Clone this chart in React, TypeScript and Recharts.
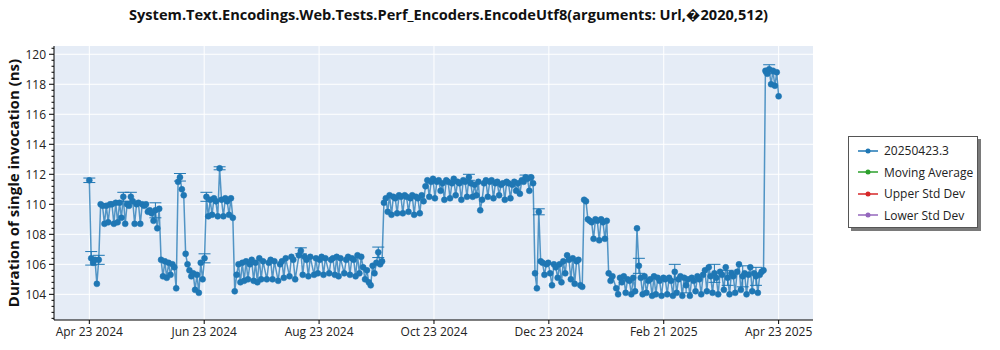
import React from 'react';
import { ComposedChart, Line, XAxis, YAxis, CartesianGrid, Legend, ErrorBar } from 'recharts';

// Day offsets from 2024-04-23 for each run
const days = [
  0, 1, 2, 3, 4, 5, 6, 7, 8, 9, 10, 11, 12, 13, 14, 15, 16, 17, 18, 19, 20, 21, 22, 23, 24, 25, 26, 27, 28, 29,
  30, 31, 32, 33, 34, 35, 36, 37, 38, 39, 40, 41, 42, 43, 44, 45, 46, 47, 48, 49, 50, 51, 52, 53, 54, 55, 56, 57, 58, 59,
  60, 61, 62, 63, 64, 65, 66, 67, 68, 69, 70, 71, 72, 73, 74, 75, 76, 77, 78, 79, 80, 81, 82, 83, 84, 85, 86, 87, 88, 89,
  90, 91, 92, 94, 95, 96, 97, 98, 100, 101, 102, 103, 104, 106, 107, 108, 109, 111, 112, 113, 114, 115, 116, 117, 119,
  120, 121, 122, 123, 124, 125, 127, 128, 129, 130, 131, 132, 133, 135, 136, 137, 138, 139, 140, 141, 142, 143, 144, 145,
  146, 147, 148, 149, 150, 151, 152, 153, 154, 155, 156, 157, 158, 159, 160, 161, 162, 163, 164, 165, 166, 167, 168, 169,
  170, 171, 172, 173, 174, 175, 176, 177, 178, 179, 180, 181, 182, 183, 184, 185, 186, 187, 188, 189, 190, 191, 192, 193,
  194, 195, 196, 197, 198, 199, 200, 201, 202, 203, 204, 205, 206, 207, 208, 209, 210, 211, 212, 213, 214, 215, 216, 217,
  218, 219, 220, 221, 222, 223, 224, 225, 226, 227, 228, 229, 230, 231, 232, 233, 234, 235, 236, 237, 238, 239, 240, 241,
  242, 243, 244, 245, 246, 247, 248, 249, 250, 251, 252, 253, 254, 255, 256, 257, 258, 259, 260, 261, 262, 263, 264, 265,
  266, 267, 268, 269, 270, 271, 272, 273, 274, 275, 276, 277, 279, 280, 281, 282, 283, 284, 285, 286, 287, 288, 289, 290,
  291, 292, 293, 294, 295, 296, 297, 298, 299, 300, 301, 302, 303, 304, 305, 306, 307, 308, 309, 310, 311, 312, 313, 314,
  315, 316, 317, 318, 319, 320, 321, 322, 323, 324, 325, 326, 327, 328, 329, 330, 331, 332, 333, 334, 335, 336, 337, 338,
  339, 340, 341, 342, 343, 344, 345, 346, 347, 348, 349, 350, 351, 352, 353, 354, 355, 356, 357, 358, 359, 360, 361, 362,
  363, 364, 365,
];

// Duration of single invocation (ns) per run
const durations = [
  111.6, 106.4, 106.1, 106.3, 104.7, 106.3, 110.0, 109.9, 108.7, 109.9, 108.8, 110.0, 110.0, 108.7, 110.1, 108.8, 110.1, 109.1, 110.5, 108.7, 110.0, 109.9, 110.5, 110.2, 108.7, 110.0, 110.1, 108.7, 110.0, 109.9,
  110.0, 109.5, 109.6, 109.4, 108.9, 109.6, 108.4, 109.7, 106.3, 105.2, 106.2, 105.1, 106.1, 105.3, 106.0, 105.8, 104.4, 111.5, 111.8, 111.0, 110.6, 106.7, 106.0, 105.6, 105.2, 105.4, 104.3, 105.3, 104.1, 106.1,
  105.0, 106.4, 110.5, 109.2, 110.3, 109.3, 110.4, 110.2, 109.2, 112.4, 110.3, 109.2, 110.4, 110.2, 109.3, 110.4, 109.1, 104.2, 105.3, 106.0, 104.8, 106.1, 104.9, 106.2, 105.0, 106.0, 106.3, 104.9, 106.1, 104.8,
  106.4, 105.0, 106.2, 105.0, 106.1, 106.3, 105.0, 106.2, 104.9, 106.0, 106.2, 105.1, 106.4, 105.2, 106.5, 106.3, 105.0, 106.6, 106.9, 105.3, 106.5, 106.3, 105.2, 106.5, 105.3,
  106.4, 105.4, 106.3, 106.5, 105.3, 106.4, 105.4, 106.3, 106.4, 105.3, 106.5, 105.2, 106.4, 105.4, 106.3, 106.5, 105.3, 106.4, 106.3, 105.2, 106.6, 105.4, 106.5, 105.8,
  105.0, 105.6, 104.8, 104.6, 105.9, 105.4, 106.1, 106.8, 106.0, 106.2, 110.1, 110.4, 109.5, 110.6, 109.3, 110.5, 110.4, 109.4, 110.6, 110.5, 109.4, 110.6, 110.5, 109.5,
  110.4, 110.6, 109.3, 110.5, 110.4, 109.4, 110.6, 110.2, 111.2, 111.6, 110.5, 111.5, 111.7, 110.4, 111.5, 111.6, 110.9, 111.4, 110.3, 111.6, 111.5, 110.4, 111.4, 111.7,
  110.6, 111.5, 111.4, 110.3, 111.6, 111.5, 110.5, 111.8, 111.4, 110.5, 111.3, 110.6, 111.5, 109.6, 110.3, 111.4, 111.6, 110.5, 111.5, 111.6, 110.4, 111.4, 111.5, 110.6,
  111.3, 111.4, 110.3, 111.5, 111.4, 110.4, 111.3, 111.5, 110.9, 111.4, 110.7, 111.6, 111.5, 111.8, 111.7, 110.9, 111.8, 111.4, 105.4, 104.4, 109.5, 106.2, 106.1, 105.3,
  106.0, 106.1, 105.4, 104.6, 106.0, 105.8, 105.1, 106.0, 104.8, 106.2, 105.4, 106.6, 106.3, 105.0, 106.4, 104.7, 106.2, 106.3, 104.6, 104.5, 110.3, 110.2, 109.0, 108.9,
  108.8, 107.7, 109.0, 108.9, 107.6, 109.0, 108.8, 107.7, 108.9, 105.4, 104.9, 105.2, 104.4, 104.0, 105.1, 104.8, 105.2, 104.1, 105.0, 104.9, 104.0, 105.1, 104.2, 108.4,
  105.9, 105.1, 104.0, 105.2, 104.1, 104.9, 105.0, 103.9, 105.2, 104.0, 105.1, 104.9, 103.9, 105.1, 105.0, 104.0, 105.1, 104.9, 103.9, 105.5, 104.1, 105.0, 105.2, 103.9,
  105.1, 104.6, 105.0, 103.9, 105.1, 104.9, 104.2, 105.2, 105.0, 104.0, 105.3, 105.6, 104.2, 105.8, 105.2, 104.1, 105.4, 105.1, 104.0, 105.5, 105.3, 104.3, 105.8, 105.1,
  104.0, 105.4, 105.2, 104.1, 105.5, 106.0, 104.3, 105.2, 105.4, 104.0, 105.3, 105.8, 104.2, 105.4, 105.2, 104.1, 105.3, 105.5, 105.6, 118.9, 118.7, 119.0, 118.0, 118.9,
  117.9, 118.8, 117.2,
];

// Runs with a visible error bar: day offset and half-width (ns)
const errorDays = [0, 1, 5, 18, 22, 35, 48, 61, 62, 69, 112, 153, 201, 231, 238, 291, 310, 316, 331, 338, 346, 353, 360];
const errorSizes = [0.15, 0.45, 0.3, 0.3, 0.3, 0.5, 0.25, 0.3, 0.3, 0.1, 0.2, 0.35, 0.2, 0.15, 0.2, 0.5, 0.5, 0.5, 0.6, 0.5, 0.7, 0.6, 0.3];

const xTicks = [0, 60.83, 121.67, 182.5, 243.33, 304.17, 365];
const xTickLabels = ['Apr 23 2024', 'Jun 23 2024', 'Aug 23 2024', 'Oct 23 2024', 'Dec 23 2024', 'Feb 21 2025', 'Apr 23 2025'];
const yMajorTicks = [104, 106, 108, 110, 112, 114, 116, 118, 120];
const yMinorTicks = [
  102.4, 102.8, 103.2, 103.6, 104.4, 104.8, 105.2, 105.6, 106.4, 106.8, 107.2, 107.6, 108.4, 108.8, 109.2, 109.6,
  110.4, 110.8, 111.2, 111.6, 112.4, 112.8, 113.2, 113.6, 114.4, 114.8, 115.2, 115.6, 116.4, 116.8, 117.2, 117.6,
  118.4, 118.8, 119.2, 119.6, 120.4,
];

const seriesName = '20250423.3';
const legendNames = ['20250423.3', 'Moving Average', 'Upper Std Dev', 'Lower Std Dev'];
const legendColors = ['#1f77b4', '#2ca02c', '#d62728', '#9467bd'];

const titleText = 'System.Text.Encodings.Web.Tests.Perf_Encoders.EncodeUtf8(arguments: Url,\uFFFD2020,512)';
const yLabelText = 'Duration of single invocation (ns)';

const data = days.map((d, i) => {
  const k = errorDays.indexOf(d);
  return { day: d, duration: durations[i], err: k >= 0 ? errorSizes[k] : undefined };
});
const yAllTicks = [...yMajorTicks, ...yMinorTicks].sort((a, b) => a - b);

const FONT = '"Open Sans", "Noto Sans", sans-serif';

const YTick = (props: any) => {
  const { x, y, payload } = props;
  const major = yMajorTicks.includes(payload.value);
  return (
    <g>
      <line x1={x - (major ? 5 : 2.5)} x2={x} y1={y} y2={y} stroke="#000" strokeWidth={1} />
      {major && (
        <text x={x - 8} y={y} dy={4.5} textAnchor="end" fontSize={12} fill="#222" fontFamily={FONT}>
          {payload.value}
        </text>
      )}
    </g>
  );
};

const LegendBox = () => (
  <div
    style={{
      border: '1px solid #555',
      background: '#fff',
      boxShadow: '3px 3px 0 #7a7a7a',
      width: 130,
      height: 92,
      boxSizing: 'border-box',
      paddingTop: 3,
      fontFamily: FONT,
      fontSize: 12,
      color: '#222',
    }}
  >
    {legendNames.map((n, i) => (
      <div key={n} style={{ display: 'flex', alignItems: 'center', height: 21.5 }}>
        <svg width={34} height={10} style={{ marginLeft: 8 }}>
          <line x1={1} x2={21} y1={5} y2={5} stroke={legendColors[i]} strokeWidth={1.5} />
          <circle cx={11} cy={5} r={2.5} fill={legendColors[i]} />
        </svg>
        <span style={{ marginLeft: -7 }}>{n}</span>
      </div>
    ))}
  </div>
);

export default function App() {
  return (
    <div style={{ position: 'absolute', left: 0, top: 0, width: 1000, height: 350, background: '#fff' }}>
      <div
        style={{
          position: 'absolute',
          left: 0,
          top: 4,
          width: 897,
          textAlign: 'center',
          fontFamily: FONT,
          fontWeight: 700,
          fontSize: 14.6,
          color: '#111',
          lineHeight: '20px',
        }}
      >
        {titleText}
      </div>
      <ComposedChart
        width={1000}
        height={350}
        data={data}
        margin={{ top: 46, right: 187, bottom: 0, left: 0 }}
      >
        <CartesianGrid
          fill="#E5ECF6"
          stroke="#ffffff"
          strokeWidth={1}
          horizontalValues={yMajorTicks}
          verticalValues={xTicks}
        />
        <XAxis
          dataKey="day"
          type="number"
          domain={[-18.7, 383.2]}
          allowDataOverflow
          ticks={xTicks}
          tickFormatter={(v: number) => xTickLabels[xTicks.indexOf(v)]}
          height={30}
          tickSize={4}
          tickMargin={3}
          interval={0}
          axisLine={{ stroke: '#000', strokeWidth: 1 }}
          tickLine={{ stroke: '#000' }}
          tick={{ fontSize: 12, fill: '#222', fontFamily: FONT }}
        />
        <XAxis
          xAxisId="top"
          orientation="top"
          type="number"
          domain={[-18.7, 383.2]}
          height={0}
          tick={false}
          tickLine={false}
          axisLine={{ stroke: '#000', strokeWidth: 1 }}
        />
        <YAxis
          type="number"
          domain={[102.29, 120.55]}
          allowDataOverflow
          ticks={yAllTicks}
          interval={0}
          width={54}
          tickSize={0}
          tickMargin={0}
          tickLine={false}
          axisLine={{ stroke: '#000', strokeWidth: 1 }}
          tick={<YTick />}
          label={{
            value: yLabelText,
            angle: -90,
            position: 'insideLeft',
            offset: 14,
            style: { textAnchor: 'middle', fontSize: 15, fontWeight: 700, fill: '#111', fontFamily: FONT },
          }}
        />
        <YAxis
          yAxisId="right"
          orientation="right"
          type="number"
          domain={[102.29, 120.55]}
          width={0}
          tick={false}
          tickLine={false}
          axisLine={{ stroke: '#000', strokeWidth: 1 }}
        />
        <Legend
          layout="horizontal"
          align="center"
          verticalAlign="middle"
          content={() => <LegendBox />}
          wrapperStyle={{ position: 'absolute', left: 848, top: 136, width: 135, height: 95 }}
        />
        <Line
          name={seriesName}
          type="linear"
          dataKey="duration"
          stroke="#1f77b4"
          strokeOpacity={0.75}
          strokeWidth={1.5}
          dot={{ r: 3, fill: '#1f77b4', stroke: '#1f77b4', strokeWidth: 0.5, fillOpacity: 1, strokeOpacity: 1 }}
          isAnimationActive={false}
        >
          <ErrorBar dataKey="err" direction="y" width={6} stroke="#1f77b4" strokeWidth={1} isAnimationActive={false} />
        </Line>
      </ComposedChart>
    </div>
  );
}
